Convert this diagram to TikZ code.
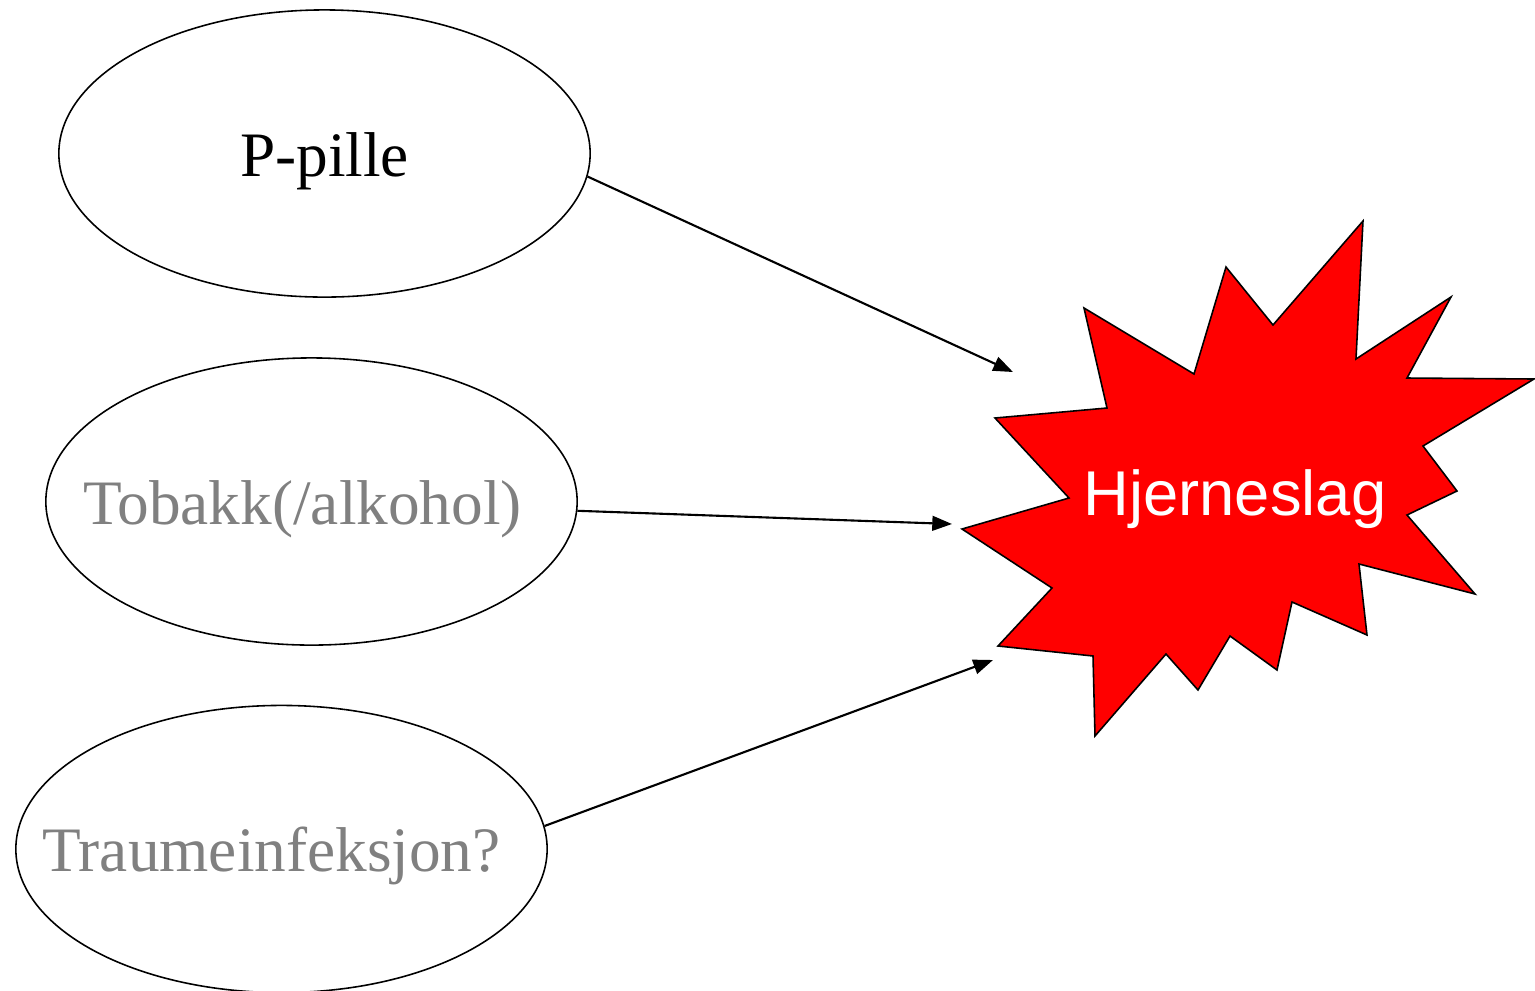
\documentclass[tikz,border=0pt]{standalone}
\usepackage{fontspec}
\setmainfont{Liberation Serif}
\newfontfamily\slagfont{Liberation Sans}
\usetikzlibrary{shapes.geometric,arrows.meta}
\tikzset{
  cause/.style={ellipse,draw,line width=0.45pt,minimum width=5.31cm,minimum height=2.87cm,
    inner xsep=-0.5cm,inner ysep=0pt,text height=13pt,text depth=0pt,font=\fontsize{18}{21}\selectfont},
  link/.style={-{Triangle[length=5.6pt,width=4.2pt]},line width=0.6pt},
}
\begin{document}
\begin{tikzpicture}[x=0.01cm,y=-0.01cm]
  \useasboundingbox (0,0) rectangle (1535,990);
  \path (324.5,153.5) node[cause] (pille) {P-pille}
        (311.5,501.5) node[cause,text=gray] (tobakk) {\hspace*{-0.18cm}Tobakk(/alkohol)}
        (281.5,849)   node[cause,text=gray] (traume) {\hspace*{-0.2cm}Traumeinfeksjon?};
  % the burst
  \draw[fill=red,line width=0.45pt] (1363,221) -- (1356,359) -- (1451,297) -- (1407,378)
    -- (1534,379) -- (1423,446) -- (1457,491) -- (1407,515) -- (1475,594) -- (1359,564)
    -- (1367,635) -- (1292,602) -- (1277,670) -- (1230,636) -- (1198,690) -- (1166,654)
    -- (1095,736) -- (1093,656) -- (998,646) -- (1052,588) -- (962,529) -- (1069,498)
    -- (995,418) -- (1107,408) -- (1084,308) -- (1194,374) -- (1226,267) -- (1273,325) -- cycle;
  \path (1235,515) node[anchor=base,text=white,font=\slagfont\fontsize{18}{21}\selectfont] (slag) {Hjerneslag};
  \path (1013,372) coordinate (inpille)
        (952,524)  coordinate (intobakk)
        (993,660)  coordinate (intraume);
  \draw[link] (pille.-5) -- (inpille);
  \draw[link] (tobakk.-2) -- (intobakk);
  \draw[link] (traume.5) -- (intraume);
\end{tikzpicture}
\end{document}
